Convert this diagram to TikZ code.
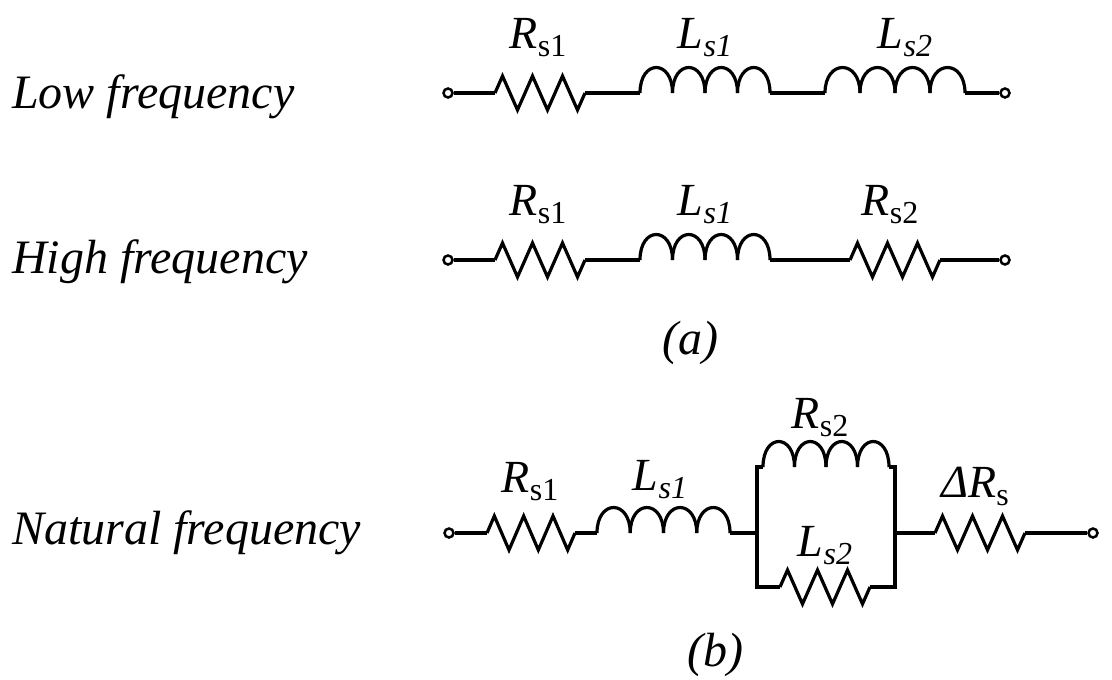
\documentclass[tikz,border=0pt]{standalone}
\usepackage{fontspec}
\setmainfont{Liberation Serif}
\newcommand{\bigf}{\fontsize{48}{52}\selectfont}
\newcommand{\labf}{\fontsize{46}{50}\selectfont}
\newcommand{\subf}{\fontsize{32}{34}\selectfont}
\newcommand{\lab}[2]{{\labf\itshape #1}\raisebox{-8pt}{\subf #2}}
\newcommand{\myres}[3]{%
  \draw[wire] (#1,#3) -- ++({(#2-#1)/12},-17) -- ++({(#2-#1)/6},34) -- ++({(#2-#1)/6},-34)
   -- ++({(#2-#1)/6},34) -- ++({(#2-#1)/6},-34) -- ++({(#2-#1)/6},34) -- (#2,#3);}
\newcommand{\myind}[3]{%
  \foreach \k in {0,1,2,3}{
    \draw[wire] ({#1+\k*(#2-#1)/4},#3) .. controls ({#1+\k*(#2-#1)/4},#3-34) and ({#1+(\k+1)*(#2-#1)/4},#3-34) .. ({#1+(\k+1)*(#2-#1)/4},#3);}}
\begin{document}
\begin{tikzpicture}[x=1pt,y=-1pt,
  wire/.style={line width=3.2pt,line join=miter},
  term/.style={circle,draw,line width=2.5pt,inner sep=0pt,minimum size=9pt,fill=white},
  txt/.style={inner sep=0pt,anchor=west}]
\useasboundingbox (0,0) rectangle (1112,680);
% row 1
\node[txt] (t1) at (12,97) {\bigf\itshape Low frequency};
\node[term] (a1) at (448,93) {};
\node[term] (b1) at (1005,93) {};
\draw[wire] (a1) -- (495,93);
\myres{495}{585}{93}
\draw[wire] (585,93) -- (640,93);
\myind{640}{770}{93}
\draw[wire] (770,93) -- (825,93);
\myind{825}{965}{93}
\draw[wire] (965,93) -- (b1);
\node (l11) at (538,38) {\lab{R}{s1}};
\node (l12) at (705,38) {\lab{L}{\itshape s1}};
\node (l13) at (905,38) {\lab{L}{\itshape s2}};
% row 2
\node[txt] (t2) at (12,262) {\bigf\itshape High frequency};
\node[term] (a2) at (448,260) {};
\node[term] (b2) at (1005,260) {};
\draw[wire] (a2) -- (495,260);
\myres{495}{585}{260}
\draw[wire] (585,260) -- (640,260);
\myind{640}{770}{260}
\draw[wire] (770,260) -- (850,260);
\myres{850}{940}{260}
\draw[wire] (940,260) -- (b2);
\node (l21) at (538,205) {\lab{R}{s1}};
\node (l22) at (705,205) {\lab{L}{\itshape s1}};
\node (l23) at (890,205) {\lab{R}{s2}};
\node (ca) at (690,343) {\bigf\itshape (a)};
% row 3
\node[txt] (t3) at (12,533) {\bigf\itshape Natural frequency};
\node[term] (a3) at (449,533) {};
\node[term] (b3) at (1093,533) {};
\draw[wire] (a3) -- (487,533);
\myres{487}{575}{533}
\draw[wire] (575,533) -- (597,533);
\myind{597}{730}{533}
\draw[wire] (730,533) -- (757,533);
\draw[wire] (763,467) -- (757,467) -- (757,587) -- (780,587);
\myind{763}{889}{467}
\draw[wire] (889,467) -- (895,467) -- (895,587) -- (870,587);
\myres{780}{870}{587}
\draw[wire] (895,533) -- (935,533);
\myres{935}{1025}{533}
\draw[wire] (1025,533) -- (b3);
\node (l31) at (530,482) {\lab{R}{s1}};
\node (l32) at (660,480) {\lab{L}{\itshape s1}};
\node (l33) at (820,418) {\lab{R}{s2}};
\node (l34) at (825,546) {\lab{L}{\itshape s2}};
\node (l35) at (975,486) {\lab{ΔR}{s}};
\node (cb) at (715,655) {\bigf\itshape (b)};
\end{tikzpicture}
\end{document}
